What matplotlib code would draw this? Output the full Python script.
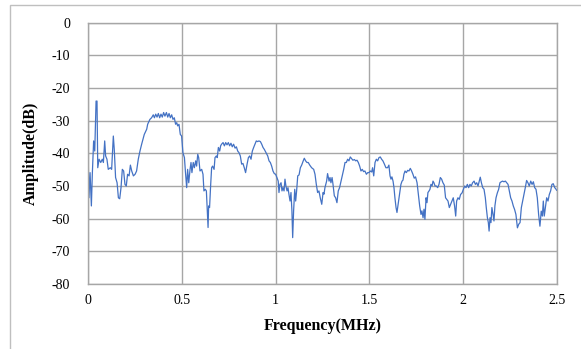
import matplotlib
matplotlib.use("Agg")
import matplotlib.pyplot as plt
from matplotlib.patches import Rectangle

# spectrum (MHz, dB)
freq_mhz = [
    0.000, 0.002, 0.005, 0.011, 0.018, 0.023, 0.030, 0.036, 0.043, 0.048,
    0.052, 0.059, 0.068, 0.076, 0.082, 0.089, 0.094, 0.101, 0.108, 0.119,
    0.126, 0.135, 0.140, 0.147, 0.155, 0.162, 0.169, 0.176, 0.183, 0.190,
    0.197, 0.204, 0.211, 0.219, 0.226, 0.233, 0.242, 0.251, 0.259, 0.268,
    0.277, 0.286, 0.300, 0.313,
    0.318, 0.330, 0.339, 0.348, 0.354, 0.361, 0.368, 0.375, 0.382, 0.389,
    0.396, 0.403, 0.410, 0.418, 0.425, 0.432, 0.439, 0.446, 0.453, 0.460,
    0.467, 0.473, 0.478, 0.485, 0.492, 0.499, 0.506, 0.514, 0.519, 0.526,
    0.531, 0.537, 0.544, 0.549, 0.554, 0.561, 0.567, 0.574, 0.579, 0.585,
    0.590, 0.597, 0.606, 0.613, 0.618, 0.625,
    0.631, 0.636, 0.640, 0.643, 0.648, 0.654, 0.659, 0.664, 0.672, 0.677,
    0.684, 0.689, 0.695, 0.702, 0.707, 0.712, 0.720, 0.727, 0.734, 0.741,
    0.748, 0.755, 0.762, 0.769, 0.776, 0.784, 0.791, 0.798, 0.805, 0.812,
    0.819, 0.826, 0.833, 0.840, 0.848, 0.855, 0.862, 0.869, 0.876, 0.883,
    0.890, 0.897, 0.904, 0.911, 0.919, 0.926, 0.933, 0.940, 0.949,
    0.958, 0.965, 0.972, 0.979, 0.986, 0.993, 1.000, 1.007, 1.014, 1.018,
    1.023, 1.029, 1.034, 1.039, 1.045, 1.050, 1.055, 1.061, 1.066, 1.071,
    1.077, 1.082, 1.087, 1.091, 1.096, 1.102, 1.107, 1.112, 1.118, 1.125,
    1.132, 1.139, 1.146, 1.153, 1.160, 1.167, 1.174, 1.182, 1.192, 1.203,
    1.210, 1.217, 1.224, 1.231, 1.238, 1.246, 1.253, 1.258, 1.263, 1.272,
    1.277, 1.285, 1.290, 1.295, 1.301, 1.306, 1.313, 1.320, 1.327, 1.334,
    1.341, 1.349, 1.356, 1.363, 1.370, 1.377, 1.384, 1.391, 1.398, 1.405,
    1.412, 1.420, 1.427, 1.434, 1.441, 1.448, 1.455, 1.462, 1.469, 1.476,
    1.484, 1.491, 1.498, 1.505, 1.512, 1.517, 1.523, 1.530, 1.537, 1.544,
    1.551, 1.558, 1.565, 1.572, 1.580, 1.588,
    1.597, 1.604, 1.610, 1.615, 1.620, 1.626, 1.631, 1.636, 1.642, 1.647,
    1.652, 1.658, 1.663, 1.668, 1.674, 1.679, 1.684, 1.690, 1.697, 1.704,
    1.711, 1.718, 1.725, 1.732, 1.739, 1.746, 1.754, 1.761, 1.768, 1.775,
    1.780, 1.786, 1.791, 1.796, 1.802, 1.807, 1.812, 1.818, 1.823, 1.828,
    1.834, 1.839, 1.844, 1.850, 1.857, 1.864, 1.871, 1.878, 1.885, 1.892,
    1.899, 1.906,
    1.919, 1.926, 1.933, 1.940, 1.947, 1.954, 1.960, 1.965, 1.972, 1.979,
    1.986, 1.994, 2.001, 2.008, 2.015, 2.022, 2.029, 2.036, 2.043, 2.050,
    2.058, 2.065, 2.072, 2.079, 2.086, 2.091, 2.097, 2.104, 2.111, 2.118,
    2.123, 2.129, 2.134, 2.138, 2.143, 2.148, 2.153, 2.159, 2.164, 2.169,
    2.175, 2.182, 2.189, 2.196, 2.203, 2.210, 2.217, 2.225, 2.232, 2.239,
    2.246, 2.253, 2.260, 2.267, 2.274, 2.281, 2.289, 2.296, 2.303, 2.310,
    2.317, 2.324, 2.331, 2.338, 2.345, 2.352, 2.360, 2.367, 2.374, 2.381,
    2.388, 2.395, 2.402, 2.409, 2.416, 2.422, 2.427, 2.432, 2.438, 2.445,
    2.452, 2.459, 2.466, 2.473, 2.480, 2.488, 2.495, 2.498,
]
amp_db = [
    -39.3, -44.4, -53.6, -45.9, -56.1, -46.4, -36.2, -39.3, -24.0, -24.0,
    -44.4, -41.8, -42.8, -41.8, -42.8, -36.2, -40.8, -41.8, -44.9, -44.4,
    -44.9, -34.7, -38.8, -47.4, -49.0, -53.6, -53.9, -50.5, -44.9, -45.4,
    -49.5, -50.0, -46.4, -46.9, -43.6, -45.4, -46.9, -46.4, -45.4, -41.8,
    -39.3, -37.2, -34.2, -32.6,
    -31.1, -29.6, -29.1, -28.2, -29.1, -28.0, -28.9, -27.8, -29.1, -28.0,
    -28.9, -27.5, -28.6, -27.5, -28.9, -27.8, -29.1, -28.2, -29.6, -29.1,
    -31.1, -30.6, -31.6, -31.1, -34.2, -34.7, -39.8, -41.3, -45.4, -50.5,
    -44.9, -49.0, -44.9, -42.8, -45.9, -42.8, -44.4, -42.3, -43.9, -40.3,
    -41.3, -45.4, -44.9, -46.4, -51.5, -51.0,
    -51.5, -57.6, -62.7, -56.1, -56.6, -49.5, -44.4, -43.9, -44.9, -41.3,
    -40.8, -41.3, -38.2, -39.3, -37.7, -37.2, -36.7, -37.7, -36.7, -37.4,
    -36.7, -37.7, -36.9, -38.0, -37.2, -38.4, -38.0, -39.3, -39.8, -40.8,
    -43.3, -43.1, -44.4, -45.9, -43.3, -41.3, -40.8, -41.8, -39.3, -38.2,
    -37.2, -36.2, -36.4, -36.2, -36.4, -37.2, -38.2, -38.8, -39.8,
    -40.8, -42.3, -42.8, -43.9, -45.4, -46.2, -46.4, -47.4, -48.5, -52.0,
    -49.5, -49.0, -51.5, -50.5, -51.5, -47.9, -50.0, -51.5, -50.5, -52.5,
    -54.6, -52.0, -57.6, -65.8, -57.6, -51.0, -54.6, -51.5, -46.9, -46.6,
    -44.4, -43.6, -42.5, -41.5, -42.3, -42.8, -42.8, -43.6, -44.4, -44.9,
    -46.4, -49.5, -52.0, -51.5, -53.6, -55.6, -52.0, -52.5, -50.5, -48.5,
    -46.2, -48.5, -47.4, -49.0, -47.4, -49.5, -53.0, -53.6, -55.1, -51.5,
    -50.5, -48.5, -46.9, -44.9, -42.8, -42.8, -41.8, -42.3, -41.1, -41.6,
    -42.1, -41.9, -42.3, -42.1, -42.8, -43.9, -45.4, -44.9, -45.6, -45.4,
    -46.4, -45.9, -45.9, -45.4, -45.7, -44.4, -46.9, -42.8, -41.8, -42.3,
    -41.3, -41.1, -41.8, -42.3, -43.3, -44.4,
    -44.4, -43.6, -46.9, -47.9, -47.2, -48.5, -50.5, -53.6, -56.6, -58.1,
    -56.1, -53.6, -51.5, -49.5, -48.5, -48.2, -46.4, -45.4, -45.9, -45.2,
    -45.4, -44.6, -45.4, -46.4, -47.6, -47.2, -49.0, -52.5, -56.1, -58.7,
    -57.6, -59.7, -57.1, -60.2, -53.6, -55.1, -52.0, -51.5, -51.0, -49.5,
    -50.0, -48.5, -49.0, -50.0, -50.0, -50.5, -49.5, -47.4, -47.9, -49.0,
    -49.7, -53.6,
    -54.6, -56.6, -55.6, -54.6, -53.6, -56.1, -59.2, -54.6, -53.6, -54.1,
    -52.6, -52.1, -51.0, -50.0, -50.5, -49.5, -50.5, -49.5, -50.0, -49.0,
    -48.5, -49.5, -49.0, -50.0, -48.5, -47.3, -49.0, -50.5, -51.0, -53.6,
    -56.6, -59.7, -61.2, -63.8, -59.7, -61.2, -56.6, -58.7, -60.7, -56.1,
    -53.6, -52.1, -51.0, -49.0, -48.7, -48.5, -48.7, -48.5, -49.0, -49.5,
    -51.5, -53.6, -54.6, -56.1, -57.2, -58.7, -62.8, -61.7, -61.2, -56.6,
    -54.6, -52.6, -50.5, -48.3, -49.0, -50.0, -48.5, -49.5, -48.7, -50.5,
    -51.0, -53.6, -58.7, -62.3, -57.7, -59.2, -54.6, -59.2, -56.6, -53.6,
    -54.6, -52.6, -51.5, -49.5, -49.3, -50.5, -51.0, -51.3,
]

x_ticks = [0, 0.5, 1, 1.5, 2, 2.5]
x_tick_labels = ["0", "0.5", "1", "1.5", "2", "2.5"]
y_ticks = [0, -10, -20, -30, -40, -50, -60, -70, -80]

plt.rcParams["font.family"] = ["Liberation Serif", "DejaVu Serif"]
plt.rcParams["axes.unicode_minus"] = False

fig = plt.figure(figsize=(5.81, 3.49), dpi=100)
# light frame around the chart area, runs off the right/bottom edge
fig.patches.append(Rectangle((10 / 581, -0.2), 1.2, 1.2 - 5 / 349,
                             transform=fig.transFigure, fill=False,
                             edgecolor="#BFBFBF", linewidth=1.0))

ax = fig.add_axes([88 / 581, 1 - 284 / 349, (557 - 88) / 581, (284 - 22.7) / 349])
ax.plot(freq_mhz, amp_db, color="#4472C4", linewidth=0.9)

ax.set_xlim(0, 2.5)
ax.set_ylim(-80, 0)
ax.set_xticks(x_ticks)
ax.set_xticklabels(x_tick_labels)
ax.set_yticks(y_ticks)
ax.grid(True, color="#A6A6A6", linewidth=1.0)
ax.set_axisbelow(True)
for s in ax.spines.values():
    s.set_color("#A6A6A6")
    s.set_linewidth(1.0)
ax.tick_params(length=0, labelsize=10, colors="black")
ax.tick_params(axis="y", pad=13)
ax.tick_params(axis="x", pad=7)

ax.set_xlabel("Frequency(MHz)", fontsize=11.5, fontweight="bold", labelpad=8)
ax.set_ylabel("Amplitude(dB)", fontsize=11.5, fontweight="bold", labelpad=9)

fig.savefig("out.png", dpi=100)
